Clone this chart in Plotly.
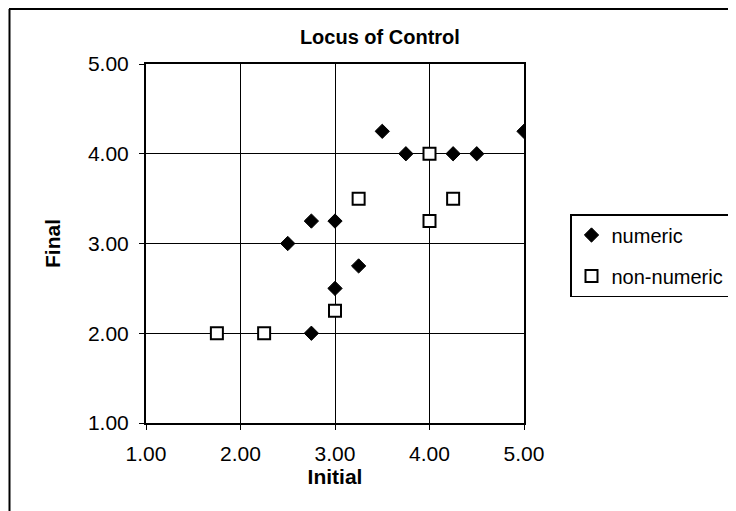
import plotly.graph_objects as go

numeric_x = [2.5, 2.75, 3.0, 2.75, 3.0, 3.25, 3.5, 3.75, 4.25, 4.5, 5.0]
numeric_y = [3.0, 3.25, 3.25, 2.0, 2.5, 2.75, 4.25, 4.0, 4.0, 4.0, 4.25]
nonnum_x = [1.75, 2.25, 3.0, 3.25, 4.0, 4.0, 4.25]
nonnum_y = [2.0, 2.0, 2.25, 3.5, 4.0, 3.25, 3.5]
tick_vals = [1.0, 2.0, 3.0, 4.0, 5.0]

OFF = 8  # page body margin in the browser
W, H = 736, 511
# target positions in screen pixels
SL, SR, ST, SB = 146, 524, 64, 423
L, T = SL - OFF, ST - OFF
R = W - (SR - OFF)
B = H - (SB - OFF)
pw, ph = SR - SL, SB - ST

def px(x):
    return (x - SL) / pw

def py(y):
    return (SB - y) / ph

FONT = "Liberation Sans, Arial, sans-serif"

fig = go.Figure()
fig.add_trace(go.Scatter(
    x=numeric_x, y=numeric_y, mode="markers", name="numeric",
    legendgroup="a",
    marker=dict(symbol="diamond", size=11, color="black",
                line=dict(color="black", width=1)),
))
fig.add_trace(go.Scatter(
    x=nonnum_x, y=nonnum_y, mode="markers", name="non-numeric",
    legendgroup="b",
    marker=dict(symbol="square", size=12, color="white",
                line=dict(color="black", width=2)),
))

axis_common = dict(
    range=[1, 5], tickvals=tick_vals, tickformat=".2f",
    showgrid=True, gridcolor="black", gridwidth=1,
    showline=True, linecolor="black", linewidth=2, mirror=True,
    ticks="outside", ticklen=5, tickcolor="black", tickwidth=1,
    zeroline=False, tickfont=dict(family=FONT, size=21, color="black"),
)

fig.update_layout(
    width=W, height=H,
    margin=dict(l=L, r=R, t=T, b=B, autoexpand=False),
    paper_bgcolor="white", plot_bgcolor="white",
    font=dict(family=FONT, color="black"),
    title=dict(text="<b>Locus of Control</b>", x=px(337), xanchor="center",
               y=1 - (37 - OFF) / H, yanchor="middle",
               font=dict(family=FONT, size=20, color="black")),
    xaxis=dict(**axis_common, ticklabelstandoff=6,
               title=dict(text="<b>Initial</b>", standoff=0,
                          font=dict(family=FONT, size=21, color="black"))),
    yaxis=dict(**axis_common, ticklabelstandoff=6,
               title=dict(text="<b>Final</b>", standoff=22,
                          font=dict(family=FONT, size=21, color="black"))),
    legend=dict(x=px(570), y=py(214), xanchor="left", yanchor="top",
                bordercolor="black", borderwidth=1.5, bgcolor="white",
                font=dict(family=FONT, size=20, color="black"),
                tracegroupgap=12, itemwidth=30),
    showlegend=True,
    shapes=[
        dict(type="line", xref="paper", yref="paper",
             x0=px(9), x1=px(745), y0=py(9), y1=py(9),
             line=dict(color="black", width=2)),
        dict(type="line", xref="paper", yref="paper",
             x0=px(9.5), x1=px(9.5), y0=py(9), y1=py(520),
             line=dict(color="black", width=2)),
    ],
)

fig.write_html("out.html")
